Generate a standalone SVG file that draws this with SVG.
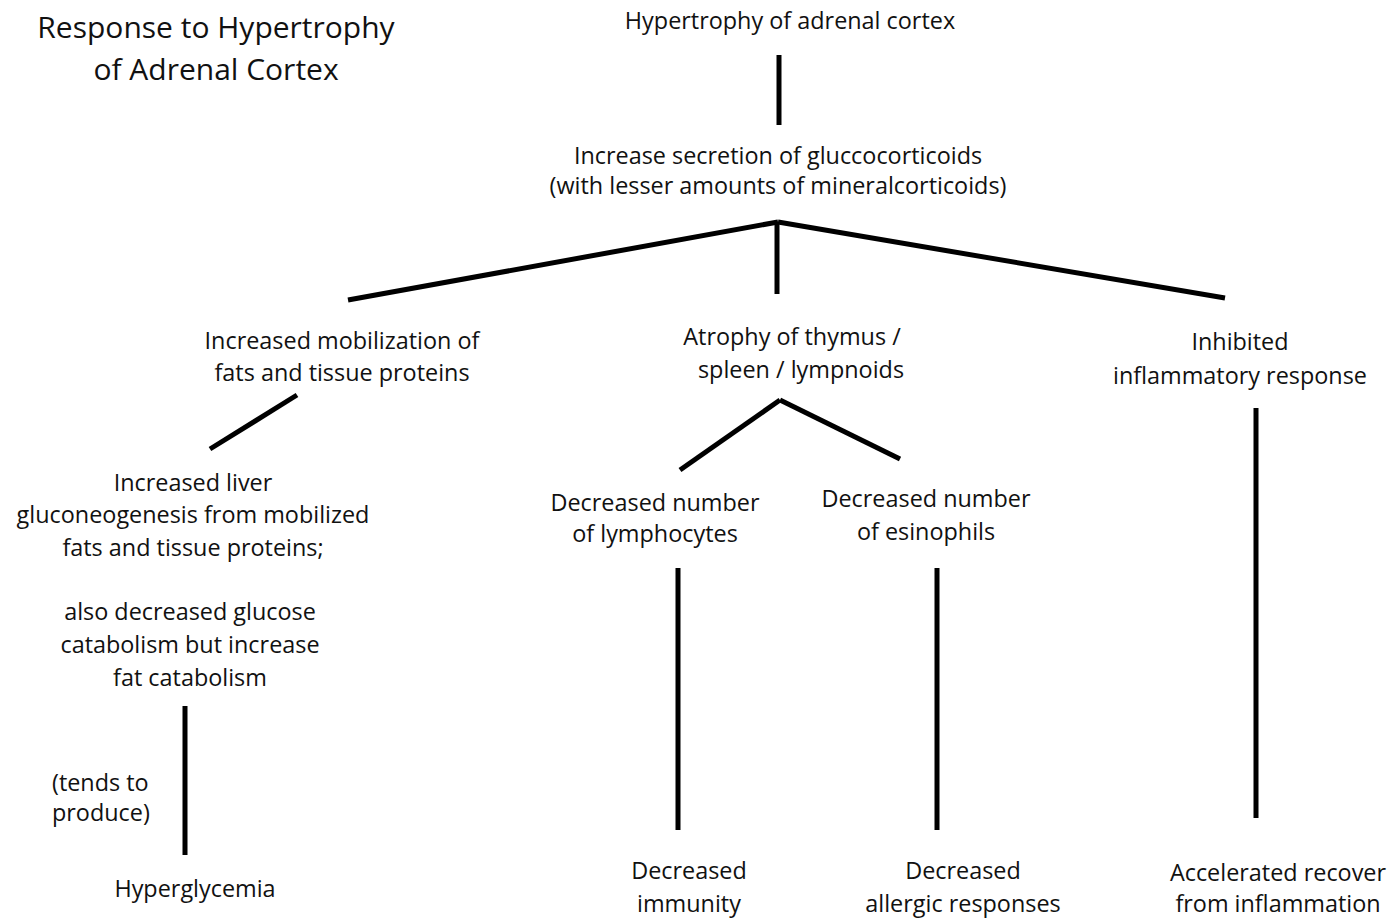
<svg xmlns="http://www.w3.org/2000/svg" width="1394" height="920" viewBox="0 0 1394 920">
<style>
text{font-family:"Open Sans","Noto Sans","Liberation Sans",sans-serif;font-size:23.4px;fill:#111;text-anchor:middle}
.title{font-size:30px}
.l{text-anchor:start}
line{stroke:#000;stroke-width:5;stroke-linecap:butt}
</style>
<rect width="1394" height="920" fill="#fff"/>
<g id="title"><text class="title" x="216" y="38">Response to Hypertrophy</text><text class="title" x="216" y="80">of Adrenal Cortex</text></g>
<g id="connectors">
<line x1="779" y1="55" x2="779" y2="125"/>
<line x1="778" y1="222" x2="348" y2="300"/>
<line x1="778" y1="222" x2="1225" y2="298"/>
<line x1="777" y1="224" x2="777" y2="294"/>
<line x1="297" y1="395" x2="210" y2="449"/>
<line x1="780" y1="400" x2="680" y2="470"/>
<line x1="780" y1="400" x2="900" y2="459"/>
<line x1="185" y1="706" x2="185" y2="855"/>
<line x1="678" y1="568" x2="678" y2="830"/>
<line x1="937" y1="568" x2="937" y2="830"/>
<line x1="1256" y1="408" x2="1256" y2="818"/>
</g>
<g id="n-hypertrophy"><text x="790" y="29">Hypertrophy of adrenal cortex</text></g>
<g id="n-secretion"><text x="778" y="164">Increase secretion of gluccocorticoids</text><text x="778" y="194">(with lesser amounts of mineralcorticoids)</text></g>
<g id="n-mobilization"><text x="342" y="349">Increased mobilization of</text><text x="342" y="381">fats and tissue proteins</text></g>
<g id="n-atrophy"><text x="792" y="345">Atrophy of thymus /</text><text x="801" y="378">spleen / lympnoids</text></g>
<g id="n-inhibited"><text x="1240" y="350">Inhibited</text><text x="1240" y="384">inflammatory response</text></g>
<g id="n-liver"><text x="193" y="491">Increased liver</text><text x="193" y="523">gluconeogenesis from mobilized</text><text x="193" y="556">fats and tissue proteins;</text><text x="190" y="620">also decreased glucose</text><text x="190" y="653">catabolism but increase</text><text x="190" y="686">fat catabolism</text></g>
<g id="n-tends"><text class="l" x="52" y="791">(tends to</text><text class="l" x="52" y="821">produce)</text></g>
<g id="n-hyperglycemia"><text x="195" y="897">Hyperglycemia</text></g>
<g id="n-lymphocytes"><text x="655" y="511">Decreased number</text><text x="655" y="542">of lymphocytes</text></g>
<g id="n-esinophils"><text x="926" y="507">Decreased number</text><text x="926" y="540">of esinophils</text></g>
<g id="n-immunity"><text x="689" y="879">Decreased</text><text x="689" y="912">immunity</text></g>
<g id="n-allergic"><text x="963" y="879">Decreased</text><text x="963" y="912">allergic responses</text></g>
<g id="n-recover"><text x="1278" y="881">Accelerated recover</text><text x="1278" y="912">from inflammation</text></g>
</svg>
